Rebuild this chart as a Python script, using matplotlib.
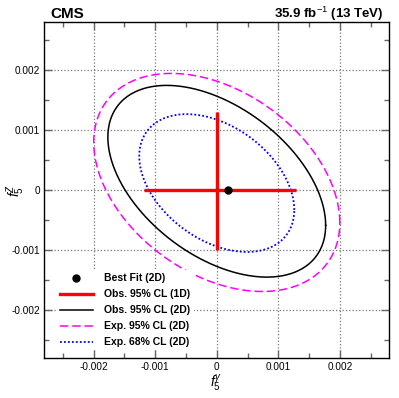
import numpy as np
import matplotlib
matplotlib.use("Agg")
import matplotlib.pyplot as plt
from matplotlib.ticker import MultipleLocator, FixedLocator
from matplotlib.lines import Line2D

plt.rcParams['font.family'] = ['Liberation Sans', 'DejaVu Sans']
plt.rcParams['mathtext.fontset'] = 'custom'
plt.rcParams['mathtext.rm'] = 'Liberation Sans'
plt.rcParams['mathtext.it'] = 'Liberation Sans:italic'
plt.rcParams['mathtext.bf'] = 'Liberation Sans:bold'

# ---- data ----
best_fit_fg = [0.00018]
best_fit_fz = [0.0]

obs1d_fg_interval = [-0.00119, 0.00128]   # horizontal red bar at fZ = 0
obs1d_fz_interval = [-0.00100, 0.00130]   # vertical red bar at fgamma = 0

contour_labels = ['Obs. 95% CL (2D)', 'Exp. 95% CL (2D)', 'Exp. 68% CL (2D)']
contour_center_fg = [0.0, 0.0, 0.0]
contour_center_fz = [0.00015, 0.00013, 0.00012]
contour_half_fg = [0.00177, 0.00200, 0.00126]
contour_half_fz = [0.00160, 0.00182, 0.00115]
contour_corr = [-0.46, -0.37, -0.39]
contour_colors = ['black', '#ff00ff', '#0000ff']
contour_styles = ['-', (0, (5.5, 2.5)), (0, (1, 1.2))]
contour_widths = [1.1, 1.1, 1.3]

major_ticks = [-0.002, -0.001, 0, 0.001, 0.002]
major_labels = ['-0.002', '-0.001', '0', '0.001', '0.002']

fig = plt.figure(figsize=(3.99, 3.98), dpi=100)
ax = fig.add_axes([0.1115, 0.1005, 0.8635, 0.843])
ax.set_xlim(-0.0028, 0.0028)
ax.set_ylim(-0.0028, 0.0028)

ax.xaxis.set_major_locator(FixedLocator(major_ticks))
ax.yaxis.set_major_locator(FixedLocator(major_ticks))
ax.set_xticklabels(major_labels)
ax.set_yticklabels(major_labels)
ax.xaxis.set_minor_locator(MultipleLocator(0.0005))
ax.yaxis.set_minor_locator(MultipleLocator(0.0005))
ax.tick_params(which='both', direction='in', top=True, right=True,
               color='#666666', labelsize=7.2, pad=3.2)
ax.tick_params(which='major', length=6, width=1)
ax.tick_params(which='minor', length=3.5, width=1)
for s in ax.spines.values():
    s.set_linewidth(1.0)
ax.grid(True, which='major', linestyle=':', color='#777777', linewidth=0.9)
ax.set_axisbelow(True)

# contours
t = np.linspace(0, 2 * np.pi, 500)
for i in range(len(contour_labels)):
    phi = np.arccos(contour_corr[i])
    xs = contour_center_fg[i] + contour_half_fg[i] * np.cos(t)
    ys = contour_center_fz[i] + contour_half_fz[i] * np.cos(t - phi)
    ax.plot(xs, ys, color=contour_colors[i], linestyle=contour_styles[i],
            linewidth=contour_widths[i], zorder=3)

# 1D intervals
ax.plot(obs1d_fg_interval, [0, 0], color='#ff0000', linewidth=2.4, zorder=4,
        solid_capstyle='butt')
ax.plot([0, 0], obs1d_fz_interval, color='#ff0000', linewidth=2.4, zorder=4,
        solid_capstyle='butt')

# best fit
ax.plot(best_fit_fg, best_fit_fz, 'o', color='black', markersize=5, zorder=5)

leg_handles = [
    Line2D([], [], marker='o', color='black', linestyle='none', markersize=5),
    Line2D([], [], color='#ff0000', linewidth=2.4),
    Line2D([], [], color=contour_colors[0], linestyle=contour_styles[0], linewidth=contour_widths[0]),
    Line2D([], [], color=contour_colors[1], linestyle=contour_styles[1], linewidth=contour_widths[1]),
    Line2D([], [], color=contour_colors[2], linestyle=contour_styles[2], linewidth=contour_widths[2]),
]
leg_labels = ['Best Fit (2D)', 'Obs. 95% CL (1D)'] + contour_labels
leg = ax.legend(leg_handles, leg_labels, loc='lower left',
                bbox_to_anchor=(0.035, 0.023), borderaxespad=0,
                prop={'weight': 'bold', 'size': 7.5}, frameon=True,
                fancybox=False, edgecolor='none', facecolor='white', framealpha=1,
                handlelength=3.2, handletextpad=1.1, labelspacing=0.57,
                borderpad=0.3)
leg.set_zorder(6)

ax.set_xlabel(r'$f_5^{\gamma}$', fontsize=10, va='center', ha='center')
ax.set_ylabel(r'$f_5^{Z}$', fontsize=10, va='center', ha='center')
ax.xaxis.set_label_coords(0.497, -0.077)
ax.yaxis.set_label_coords(-0.083, 0.5)

fig.text(50 / 399, 1 - 17.5 / 398, 'CMS', fontsize=11, fontweight='bold',
         ha='left', va='baseline')
fig.text(384 / 399, 1 - 18.3 / 398, r'35.9 fb$^{-1}$ (13 TeV)', fontsize=9.5,
         fontweight='bold', ha='right', va='baseline')

fig.savefig('out.png', dpi=100)
